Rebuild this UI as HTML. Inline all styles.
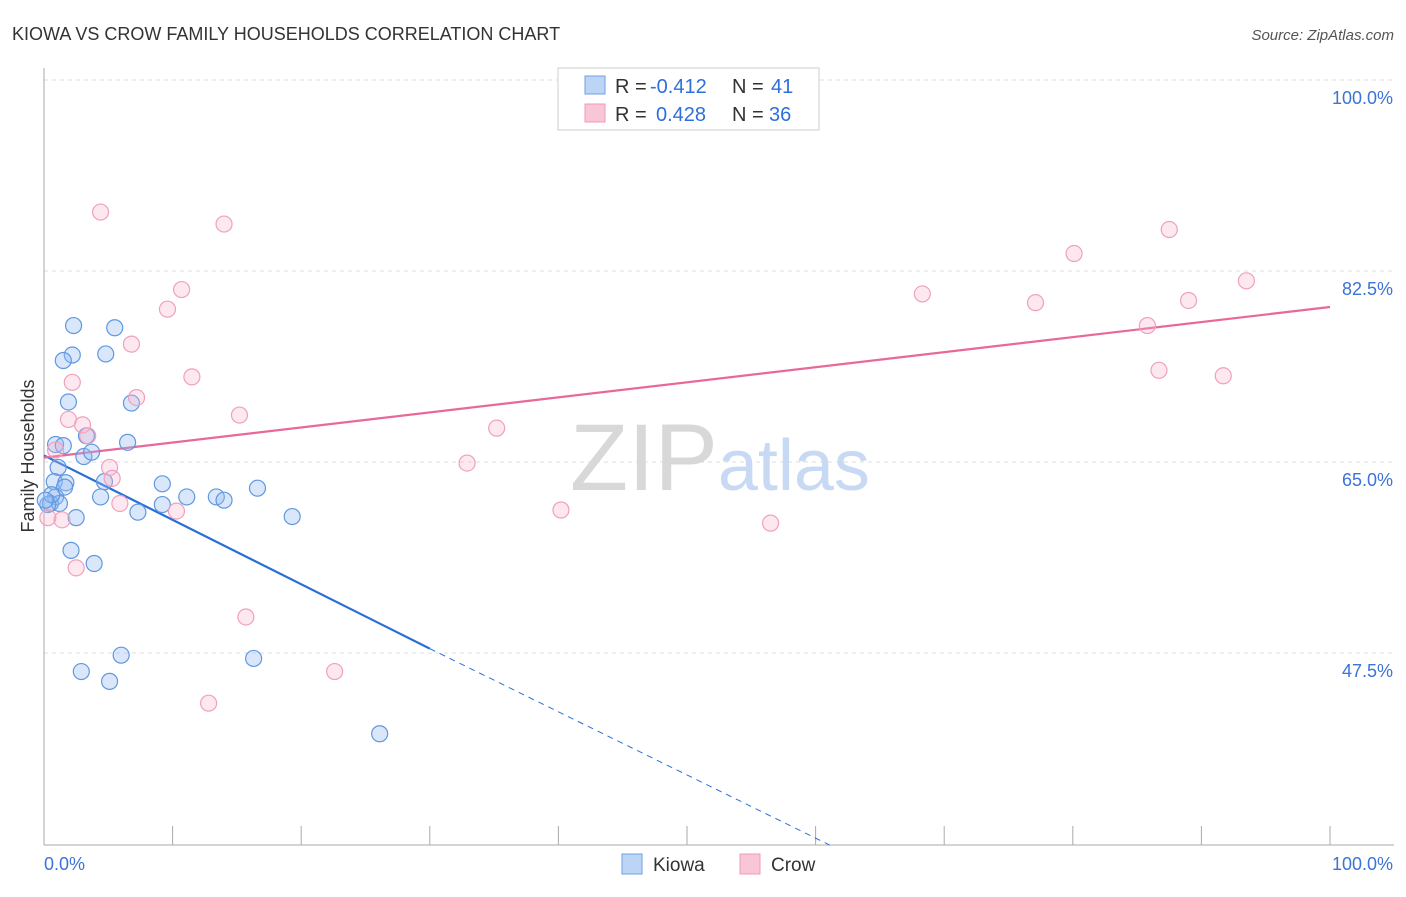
<!DOCTYPE html>
<html><head><meta charset="utf-8"><style>
body{margin:0;background:#fff;font-family:"Liberation Sans",sans-serif;}
svg text{font-family:"Liberation Sans",sans-serif;}
</style></head><body>
<svg width="1406" height="892" viewBox="0 0 1406 892" xmlns="http://www.w3.org/2000/svg">
<text x="12" y="40" font-size="18" fill="#333">KIOWA VS CROW FAMILY HOUSEHOLDS CORRELATION CHART</text>
<text x="1394" y="40" font-size="15" fill="#555" text-anchor="end" font-style="italic">Source: ZipAtlas.com</text>
<g id="grid"></g>
<text x="720" y="490" font-size="95" text-anchor="middle" fill="#ddd" font-family="Liberation Serif"><tspan fill="#d8d8d8">ZIP</tspan><tspan fill="#c8daf3" font-family="Liberation Sans" font-size="72">atlas</tspan></text>
<text transform="translate(34,456) rotate(-90)" font-size="18" fill="#333" text-anchor="middle">Family Households</text>
<g id="axes"></g>
<g id="lines"></g>
<g id="points"></g>
<g>
<rect x="558" y="68" width="261" height="62" fill="#fff" stroke="#ccc"/>
<rect x="585" y="76" width="20" height="18" fill="#bcd4f5" stroke="#6fa0e0"/>
<rect x="585" y="104" width="20" height="18" fill="#f9c6d6" stroke="#f09ab8"/>
<text x="615" y="93" font-size="20" fill="#333">R =</text>
<text x="650" y="93" font-size="20" fill="#2f6fdb">-0.412</text>
<text x="732" y="93" font-size="20" fill="#333">N =</text>
<text x="771" y="93" font-size="20" fill="#2f6fdb">41</text>
<text x="615" y="121" font-size="20" fill="#333">R =</text>
<text x="656" y="121" font-size="20" fill="#2f6fdb">0.428</text>
<text x="732" y="121" font-size="20" fill="#333">N =</text>
<text x="769" y="121" font-size="20" fill="#2f6fdb">36</text>
</g>
<g>
<rect x="622" y="854" width="20" height="20" fill="#bcd4f5" stroke="#6fa0e0"/>
<text x="653" y="871" font-size="19" fill="#333">Kiowa</text>
<rect x="740" y="854" width="20" height="20" fill="#f9c6d6" stroke="#f09ab8"/>
<text x="771" y="871" font-size="19" fill="#333">Crow</text>
</g>
</svg>
<script>
const yTicks=[47.5,65.0,82.5,100.0];
const yTickLabels=["47.5%","65.0%","82.5%","100.0%"];
const kiowaX=[2.3,5.5,2.2,4.8,1.5,1.9,6.8,0.9,1.5,3.3,6.5,3.1,3.7,1.1,0.8,1.7,1.6,4.7,9.2,0.9,4.4,11.1,13.4,14.0,16.6,0.5,1.2,9.2,7.3,2.5,19.3,2.1,3.9,6.0,2.9,5.1,16.3,26.1,0.3,0.6,0.1];
const kiowaY=[77.5,77.3,74.8,74.9,74.3,70.5,70.4,66.6,66.5,67.4,66.8,65.5,65.9,64.5,63.2,63.1,62.7,63.2,63.0,61.8,61.8,61.8,61.8,61.5,62.6,61.2,61.2,61.1,60.4,59.9,60.0,56.9,55.7,47.3,45.8,44.9,47.0,40.1,61.1,62.0,61.5];
const crowX=[4.4,14.0,10.7,9.6,6.8,2.2,11.5,7.2,15.2,1.9,3.0,3.4,0.9,5.1,5.3,5.9,10.3,1.4,0.3,2.5,15.7,22.6,12.8,32.9,35.2,40.2,56.5,68.3,77.1,80.1,87.5,93.5,89.0,85.8,86.7,91.7];
const crowY=[87.9,86.8,80.8,79.0,75.8,72.3,72.8,70.9,69.3,68.9,68.4,67.4,66.1,64.5,63.5,61.2,60.5,59.7,59.9,55.3,50.8,45.8,42.9,64.9,68.1,60.6,59.4,80.4,79.6,84.1,86.3,81.6,79.8,77.5,73.4,72.9];
const kiowaTrend=[65.6,47.9,29.9];
const kiowaTrendX=[0,30,61.1];
const crowTrend=[65.4,79.2];
const crowTrendX=[0,100];

const NS="http://www.w3.org/2000/svg";
const X=v=>44+v*12.86, Y=v=>80+(100-v)*10.914;
function mk(tag,attrs,parent){const e=document.createElementNS(NS,tag);for(const k in attrs)e.setAttribute(k,attrs[k]);document.getElementById(parent).appendChild(e);return e;}
yTicks.forEach((t,i)=>{
 const l=mk('line',{x1:44,x2:1394,y1:Y(t),y2:Y(t),stroke:'#ddd','stroke-dasharray':'4,4'},'grid');
 
 
 const tx=mk('text',{x:1393,y:Y(t)+24,'font-size':18,fill:'#3b73d6','text-anchor':'end'},'axes');
 tx.textContent=yTickLabels[i];
 
 
});
let a=mk('line',{x1:44,x2:44,y1:68,y2:845,stroke:'#aaa'},'axes');


a=mk('line',{x1:44,x2:1394,y1:845,y2:845,stroke:'#aaa'},'axes');


for(let i=0;i<=10;i++){const t=mk('line',{x1:X(i*10),x2:X(i*10),y1:826,y2:845,stroke:'#aaa'},'axes');
 
 }
let xl=mk('text',{x:44,y:870,'font-size':18,fill:'#3b73d6'},'axes');xl.textContent='0.0%';


xl=mk('text',{x:1393,y:870,'font-size':18,fill:'#3b73d6','text-anchor':'end'},'axes');xl.textContent='100.0%';



kiowaX.forEach((x,i)=>{const c=mk('circle',{cx:X(x),cy:Y(kiowaY[i]),r:8,fill:'rgba(150,185,240,0.35)',stroke:'#5f98e0','stroke-width':1.2},'points');
 
 });
crowX.forEach((x,i)=>{const c=mk('circle',{cx:X(x),cy:Y(crowY[i]),r:8,fill:'rgba(247,180,205,0.3)',stroke:'#f0a0bd','stroke-width':1.2},'points');
 
 });
let ln=mk('line',{x1:X(kiowaTrendX[0]),y1:Y(kiowaTrend[0]),x2:X(kiowaTrendX[1]),y2:Y(kiowaTrend[1]),stroke:'#2a6fd8','stroke-width':2.2},'lines');


ln=mk('line',{x1:X(kiowaTrendX[1]),y1:Y(kiowaTrend[1]),x2:X(kiowaTrendX[2]),y2:Y(kiowaTrend[2]),stroke:'#2a6fd8','stroke-width':1,'stroke-dasharray':'6,5'},'lines');


ln=mk('line',{x1:X(crowTrendX[0]),y1:Y(crowTrend[0]),x2:X(crowTrendX[1]),y2:Y(crowTrend[1]),stroke:'#e8689a','stroke-width':2.2},'lines');


</script>
</body></html>
